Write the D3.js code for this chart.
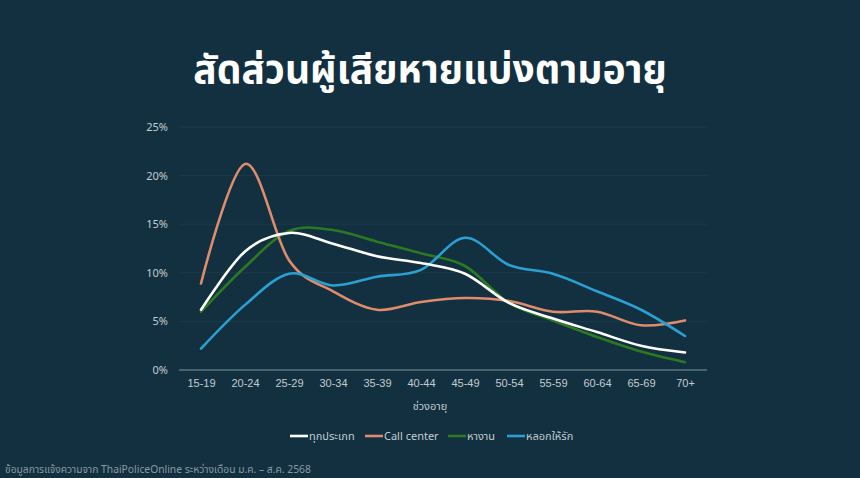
<!DOCTYPE html>
<html><head><meta charset="utf-8">
<script src="https://cdn.jsdelivr.net/npm/d3@7"></script>
<style>
html,body{margin:0;padding:0;background:#12303f;}
svg{display:block;font-family:"Noto Sans","Noto Sans Thai","DejaVu Sans",sans-serif;}
</style></head>
<body>
<svg id="chart" width="860" height="478"></svg>
<script>
const categories = ["15-19","20-24","25-29","30-34","35-39","40-44","45-49","50-54","55-59","60-64","65-69","70+"];
const allTypes   = [6.2,12.2,14.1,13.0,11.7,11.0,9.9,6.9,5.3,3.9,2.5,1.8];
const callCenter = [8.9,21.2,11.3,8.1,6.2,7.0,7.4,7.1,6.0,6.0,4.6,5.1];
const jobScam    = [6.0,10.6,14.3,14.4,13.2,12.0,10.7,6.9,5.1,3.4,1.9,0.8];
const romance    = [2.2,6.7,9.9,8.7,9.6,10.3,13.6,10.8,9.9,8.1,6.2,3.5];
const seriesNames = ["ทุกประเภท","Call center","หางาน","หลอกให้รัก"];
const yTicks = [0,5,10,15,20,25];
const title = "สัดส่วนผู้เสียหายแบ่งตามอายุ";
const xTitle = "ช่วงอายุ";
const source = "ข้อมูลการแจ้งความจาก ThaiPoliceOnline ระหว่างเดือน ม.ค. – ส.ค. 2568";

const colors = ["#ffffff","#de8c6c","#2b7a22","#2aa0d3"];
const series = [allTypes, callCenter, jobScam, romance];

const svg = d3.select("#chart");
svg.append("rect").attr("width",860).attr("height",478).attr("fill","#12303f");

svg.append("text").attr("x",430).attr("y",83).attr("text-anchor","middle")
  .attr("fill","#ffffff").attr("font-size",39).attr("font-weight","bold").text(title);

const x = d3.scalePoint().domain(categories).range([179,707]).padding(0.5);
const y = d3.scaleLinear().domain([0,25]).range([370,127]);

// gridlines
svg.append("g").selectAll("line").data(yTicks.filter(d=>d>0)).join("line")
  .attr("x1",179).attr("x2",707).attr("y1",d=>y(d)).attr("y2",d=>y(d))
  .attr("stroke","#1b3b4c").attr("stroke-width",1);

// y axis labels
svg.append("g").selectAll("text").data(yTicks).join("text")
  .attr("x",168).attr("y",d=>y(d)+4).attr("text-anchor","end")
  .attr("fill","#c3ccd2").attr("font-size",11).text(d=>d+"%");

// x axis
const xAxis = svg.append("g").attr("transform","translate(0,370)")
  .call(d3.axisBottom(x).tickSize(0).tickPadding(9));
xAxis.select(".domain").attr("stroke","#7f97a4").attr("stroke-width",1.2).attr("d","M179,0H707");
xAxis.selectAll("text").attr("fill","#c3ccd2").attr("font-size",11).attr("font-family","inherit");

svg.append("text").attr("x",430).attr("y",410).attr("text-anchor","middle")
  .attr("fill","#c3ccd2").attr("font-size",11).text(xTitle);

// lines
const line = d3.line().x((d,i)=>x(categories[i])).y(d=>y(d)).curve(d3.curveCardinal.tension(0));
const order = [2,1,3,0];
svg.append("g").selectAll("path").data(order).join("path")
  .attr("d",k=>line(series[k])).attr("fill","none")
  .attr("stroke",k=>colors[k]).attr("stroke-width",2.6).attr("stroke-linecap","round");

// legend
const legX = [290,365,448,507];
const lg = svg.append("g").selectAll("g").data(seriesNames).join("g")
  .attr("transform",(d,i)=>`translate(${legX[i]},436)`);
lg.append("line").attr("x1",0).attr("x2",18).attr("y1",0).attr("y2",0)
  .attr("stroke",(d,i)=>colors[i]).attr("stroke-width",2.6);
lg.append("text").attr("x",19).attr("y",4).attr("fill","#c3ccd2").attr("font-size",11).text(d=>d);

svg.append("text").attr("x",5).attr("y",473).attr("fill","#8a9aa5").attr("font-size",10.3).text(source);
</script>
</body></html>
